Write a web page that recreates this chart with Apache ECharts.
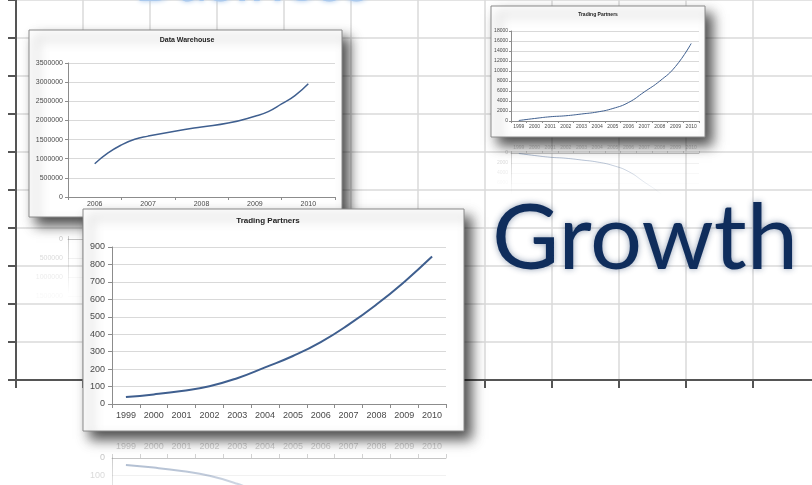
<!DOCTYPE html>
<html>
<head>
<meta charset="utf-8">
<script src="https://cdn.jsdelivr.net/npm/echarts@6/dist/echarts.min.js"></script>
<style>
html, body { margin: 0; padding: 0; background: #ffffff; }
#chart { width: 812px; height: 485px; }
</style>
</head>
<body>
<div id="chart"></div>
<script>
// ---- Data Warehouse size (records), 2006–2010 ----
const DW_YEARS = ['2006', '2007', '2008', '2009', '2010'];
const DW_POS = [2006, 2006.25, 2006.5, 2006.75, 2007, 2007.5, 2008, 2008.5, 2009, 2009.25, 2009.5, 2009.75, 2010];
const DW_VALUES = [870000, 1150000, 1360000, 1510000, 1590000, 1720000, 1830000, 1930000, 2110000, 2230000, 2430000, 2650000, 2960000];

// ---- Trading Partners (count), 1999–2010 ----
const TP_YEARS = ['1999', '2000', '2001', '2002', '2003', '2004', '2005', '2006', '2007', '2008', '2009', '2010'];
const TP_POS = [1999, 2000, 2001, 2002, 2003, 2004, 2005, 2006, 2007, 2008, 2009, 2010];
const TP_VALUES = [40, 55, 75, 102, 148, 210, 275, 355, 455, 570, 700, 845];

// ---- Trading Partners, small panel (larger scale series) ----
const TPS_VALUES = [100, 500, 850, 1050, 1400, 1800, 2500, 3700, 5800, 8000, 10900, 15500];

// ---- Headline words ----
const HEAD_TOP = 'Business';
const HEAD_MAIN = 'Growth';

const LINE_COLOR = '#3f5f8f';
const LABEL_FONT = 'Liberation Sans';

const grids = [], xAxes = [], yAxes = [], series = [], elements = [];

// fading greys used for mirrored copies, strongest next to the frame
const FADE = [0.4, 0.26, 0.14, 0.05, 0, 0, 0, 0, 0, 0];
const fadeGrey = (a, g) => `rgba(${g},${g},${g},${a})`;

// One Excel-style line chart: a hidden value axis carries the data,
// a category axis draws the year labels and the band ticks.
function addChart(c) {
  const gi = grids.length;
  grids.push({
    left: c.left, top: c.top, width: c.width, height: c.height,
    outerBoundsMode: 'none', containLabel: false,
    show: !c.reflect, borderColor: '#b8b8b8', borderWidth: 1, backgroundColor: 'transparent'
  });
  const first = Number(c.years[0]), last = Number(c.years[c.years.length - 1]);
  const xv = xAxes.length;
  xAxes.push({
    type: 'value', gridIndex: gi, min: first - 0.5, max: last + 0.5,
    show: false, position: c.reflect ? 'top' : 'bottom', z: c.z
  });
  xAxes.push({
    type: 'category', gridIndex: gi, data: c.years, boundaryGap: true,
    position: c.reflect ? 'top' : 'bottom', z: c.z,
    axisLine: { lineStyle: { color: c.reflect ? 'rgba(130,130,130,0.35)' : '#8c8c8c', width: 1 } },
    axisTick: { show: true, length: c.tick, lineStyle: { color: c.reflect ? 'rgba(130,130,130,0.35)' : '#8c8c8c' } },
    axisLabel: { fontSize: c.font, fontFamily: LABEL_FONT, color: c.reflect ? 'rgba(110,110,110,0.35)' : '#4a4a4a',
                 margin: c.xMargin, interval: 0 },
    splitLine: { show: false }
  });
  const yi = yAxes.length;
  const rich = {};
  FADE.forEach((a, i) => { rich['f' + i] = { color: fadeGrey(a, 110), fontSize: c.font, fontFamily: LABEL_FONT }; });
  yAxes.push({
    type: 'value', gridIndex: gi, min: 0, max: c.yMax, interval: c.yInterval,
    inverse: !!c.reflect, z: c.z,
    axisLine: { show: true, lineStyle: {
      color: c.reflect
        ? new echarts.graphic.LinearGradient(0, c.top, 0, c.top + c.fade, [
            { offset: 0, color: 'rgba(130,130,130,0.4)' }, { offset: 1, color: 'rgba(130,130,130,0)' }], true)
        : '#8c8c8c',
      width: 1 } },
    axisTick: { show: !c.reflect, length: c.tick, lineStyle: { color: '#8c8c8c' } },
    axisLabel: c.reflect
      ? { margin: c.yMargin, formatter: (v, i) => `{f${Math.min(i, FADE.length - 1)}|${v}}`, rich: rich }
      : { fontSize: c.font, fontFamily: LABEL_FONT, color: '#4a4a4a', margin: c.yMargin, formatter: v => String(v) },
    splitLine: { show: true, lineStyle: {
      color: c.reflect ? FADE.map(a => fadeGrey(a * 0.8, 190)) : '#d9d9d9', width: 1 } }
  });
  const color = c.reflect
    ? new echarts.graphic.LinearGradient(0, c.top, 0, c.top + c.fade, [
        { offset: 0, color: 'rgba(63,95,143,0.45)' },
        { offset: 1, color: 'rgba(63,95,143,0)' }], true)
    : LINE_COLOR;
  series.push({
    type: 'line', xAxisIndex: xv, yAxisIndex: yi, z: c.z + 1,
    data: c.xs.map((x, i) => [x, c.values[i]]),
    smooth: true, showSymbol: false, silent: true,
    lineStyle: { color: color, width: c.lineWidth }
  });
}

// Picture frame with drop shadow and a small bold caption
function addFrame(f) {
  elements.push({
    type: 'rect', z: f.z, silent: true,
    shape: { x: f.x, y: f.y, width: f.w, height: f.h },
    style: { fill: '#ffffff', stroke: '#8a8a8a', lineWidth: 1,
             shadowBlur: 12, shadowOffsetX: 7, shadowOffsetY: 8, shadowColor: 'rgba(0,0,0,0.7)' }
  });
  elements.push({
    type: 'text', z: f.z + 3, silent: true, x: f.tx, y: f.ty,
    style: { text: f.title, fontSize: f.tf, fontWeight: 'bold', fontFamily: LABEL_FONT,
             fill: '#222', align: 'center', verticalAlign: 'middle' }
  });
}

// ---------- background: large growth axes ----------
grids.push({ left: 16, top: 0, width: 804, height: 380, show: false, outerBoundsMode: 'none', containLabel: false });
xAxes.push({
  type: 'value', gridIndex: 0, min: 0, max: 12, interval: 1, z: 0,
  axisLine: { show: true, lineStyle: { color: '#555', width: 2 } },
  axisTick: { show: true, length: 8, lineStyle: { color: '#555', width: 2 } },
  axisLabel: { show: false },
  splitLine: { show: true, lineStyle: { color: '#dadada', width: 1.5 } }
});
yAxes.push({
  type: 'value', gridIndex: 0, min: 0, max: 10, interval: 1, z: 0,
  axisLine: { show: true, lineStyle: { color: '#555', width: 2 } },
  axisTick: { show: true, length: 8, lineStyle: { color: '#555', width: 2 } },
  axisLabel: { show: false },
  splitLine: { show: true, lineStyle: { color: '#dadada', width: 1.5 } }
});

// headline words
elements.push({
  type: 'text', z: 1, silent: true, x: 134, y: -19,
  style: { text: HEAD_TOP, fontSize: 62, fontFamily: 'Lato', fill: '#a9c8ec',
           verticalAlign: 'middle', textShadowBlur: 5, textShadowColor: '#a9c8ec' }
});
elements.push({
  type: 'text', z: 1, silent: true, x: 492, y: 239,
  style: { text: HEAD_MAIN, fontSize: 92, fontFamily: 'Lato', fill: '#0f2d5c',
           verticalAlign: 'middle', textShadowBlur: 6, textShadowColor: 'rgba(15,45,92,0.45)' }
});

// ---------- small Trading Partners panel (top right) ----------
addChart({ left: 511, top: 153, width: 188, height: 90, years: TP_YEARS, xs: TP_POS, values: TPS_VALUES,
           yMax: 18000, yInterval: 2000, font: 5, tick: 2, xMargin: 3, yMargin: 3, lineWidth: 1, z: 3,
           reflect: true, fade: 42 });
addFrame({ x: 491, y: 6, w: 214, h: 131, z: 30, title: 'Trading Partners', tx: 598, ty: 15, tf: 5 });
addChart({ left: 511, top: 31, width: 188, height: 90, years: TP_YEARS, xs: TP_POS, values: TPS_VALUES,
           yMax: 18000, yInterval: 2000, font: 5, tick: 2, xMargin: 3, yMargin: 3, lineWidth: 1, z: 31 });

// ---------- Data Warehouse panel ----------
addChart({ left: 68, top: 239, width: 267, height: 134, years: DW_YEARS, xs: DW_POS, values: DW_VALUES,
           yMax: 3500000, yInterval: 500000, font: 7, tick: 3, xMargin: 4, yMargin: 5, lineWidth: 1.5, z: 5,
           reflect: true, fade: 55 });
addFrame({ x: 29, y: 30, w: 313, h: 187, z: 10, title: 'Data Warehouse', tx: 187, ty: 40, tf: 7 });
addChart({ left: 68, top: 63, width: 267, height: 134, years: DW_YEARS, xs: DW_POS, values: DW_VALUES,
           yMax: 3500000, yInterval: 500000, font: 7, tick: 3, xMargin: 4, yMargin: 5, lineWidth: 1.5, z: 11 });

// ---------- Trading Partners panel (front) ----------
addChart({ left: 112, top: 458, width: 334, height: 157, years: TP_YEARS, xs: TP_POS, values: TP_VALUES,
           yMax: 900, yInterval: 100, font: 9, tick: 4, xMargin: 7, yMargin: 7, lineWidth: 2, z: 15,
           reflect: true, fade: 60 });
addFrame({ x: 83, y: 209, w: 381, h: 222, z: 20, title: 'Trading Partners', tx: 268, ty: 221, tf: 8 });
addChart({ left: 112, top: 247, width: 334, height: 157, years: TP_YEARS, xs: TP_POS, values: TP_VALUES,
           yMax: 900, yInterval: 100, font: 9, tick: 4, xMargin: 7, yMargin: 7, lineWidth: 2, z: 21 });

const chart = echarts.init(document.getElementById('chart'), null, { renderer: 'canvas' });
chart.setOption({
  animation: false,
  backgroundColor: '#ffffff',
  grid: grids,
  xAxis: xAxes,
  yAxis: yAxes,
  series: series,
  graphic: { elements: elements }
});
</script>
</body>
</html>
